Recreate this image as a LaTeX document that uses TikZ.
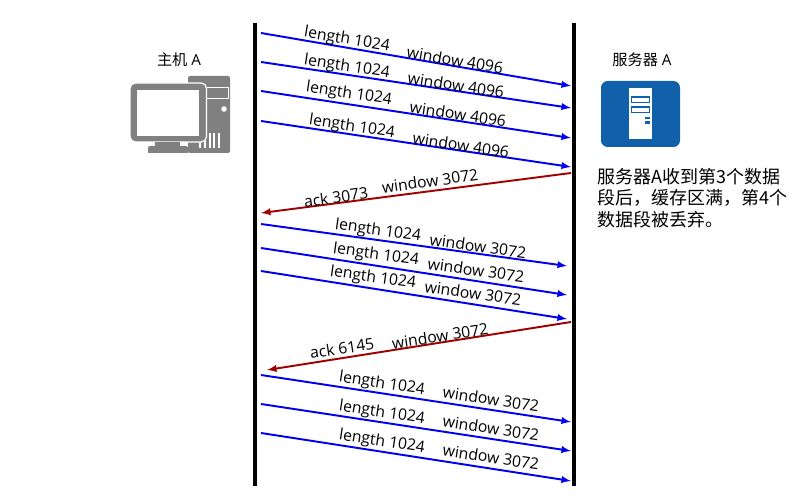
\documentclass[tikz,border=0pt]{standalone}
\usepackage{xcolor}
\usepackage{fontspec}
\setmainfont{Open Sans}
\newfontfamily\cjk{Noto Sans CJK SC}
\usepackage{tikz}
\definecolor{sendblue}{RGB}{0,0,240}
\definecolor{ackred}{RGB}{160,0,0}
\definecolor{hostgrey}{RGB}{128,128,128}
\definecolor{serverblue}{RGB}{17,96,170}
\tikzset{
    lifeline/.style={line width=2.4pt},
    send/.style={->, >=latex, sendblue, line width=1.45pt},
    ack/.style={->, >=latex, ackred, line width=1.45pt},
    seglabel/.style={font=\fontsize{11.8}{12}\selectfont, inner sep=0pt},
    hostlabel/.style={font=\fontsize{11.4}{12}\selectfont, inner sep=0pt}
}
\begin{document}
\begin{tikzpicture}[x=0.75pt, y=-0.75pt]
    \useasboundingbox (0, 0) rectangle (800, 499);

    \coordinate (HT) at (255, 23);
    \coordinate (HB) at (255, 486);
    \coordinate (ST) at (574, 23);
    \coordinate (SB) at (574, 486);
    \draw[lifeline] (HT) -- (HB);
    \draw[lifeline] (ST) -- (SB);

    \node[hostlabel] at (179, 60) (host) {{\cjk 主机} A};
    \node[hostlabel] at (642, 60) (server) {{\cjk 服务器} A};
    \node[font=\fontsize{13.5}{16}\selectfont\cjk, inner sep=0pt, anchor=north west, align=left] at (597.5, 168) (note) {服务器A收到第3个数据\\段后，缓存区满，第4个\\数据段被丢弃。};

    % host icon
    \fill[hostgrey, rounded corners=1.5pt] (188, 76) rectangle (230, 153);
    \draw[white, line width=0.6pt] (206, 87) rectangle (228, 98.5);
    \fill[white] (224, 109) circle (2.8);
    \foreach \x in {200, 205, 210, 214, 219}
        \draw[white, line width=0.8pt] (\x, 133) -- (\x, 148);
    \fill[hostgrey, draw=white, line width=0.9pt, rounded corners=4pt] (130, 83) rectangle (206.5, 142);
    \fill[white] (137, 90) rectangle (199, 136);
    \fill[hostgrey] (155, 142) rectangle (180, 146);
    \fill[hostgrey, rounded corners=1.5pt] (148, 146) rectangle (188, 155);
    \fill[white] (146, 153) rectangle (188, 156);

    % server icon
    \fill[serverblue, rounded corners=5pt] (601, 81) rectangle (680, 147);
    \fill[white] (629, 88.5) rectangle (652, 139);
    \draw[serverblue, line width=0.9pt] (631.5, 97) rectangle (649.5, 102.5);
    \draw[serverblue, line width=0.9pt] (631.5, 107) rectangle (649.5, 112.5);
    \fill[serverblue] (645, 117) rectangle (649.5, 119.5);
    \fill[serverblue] (645, 121.5) rectangle (649.5, 124);

    \coordinate (A1) at (261, 33);
    \coordinate (B1) at (571, 86);
    \coordinate (A2) at (261, 62);
    \coordinate (B2) at (571, 108);
    \coordinate (A3) at (261, 91);
    \coordinate (B3) at (571, 138);
    \coordinate (A4) at (261, 121);
    \coordinate (B4) at (571, 167);
    \coordinate (C1) at (571, 173);
    \coordinate (D1) at (261, 213);
    \coordinate (A5) at (261, 224);
    \coordinate (B5) at (567, 266);
    \coordinate (A6) at (261, 248);
    \coordinate (B6) at (567, 295);
    \coordinate (A7) at (261, 271);
    \coordinate (B7) at (567, 319);
    \coordinate (C2) at (571, 322);
    \coordinate (D2) at (267, 370);
    \coordinate (A8) at (261, 375);
    \coordinate (B8) at (571, 422);
    \coordinate (A9) at (261, 404);
    \coordinate (B9) at (571, 451);
    \coordinate (A10) at (261, 433);
    \coordinate (B10) at (571, 481);

    \draw[send] (A1) -- (B1);
    \draw[send] (A2) -- (B2);
    \draw[send] (A3) -- (B3);
    \draw[send] (A4) -- (B4);
    \draw[ack] (C1) -- (D1);
    \draw[send] (A5) -- (B5);
    \draw[send] (A6) -- (B6);
    \draw[send] (A7) -- (B7);
    \draw[ack] (C2) -- (D2);
    \draw[send] (A8) -- (B8);
    \draw[send] (A9) -- (B9);
    \draw[send] (A10) -- (B10);

    \node[seglabel, rotate=-9.5] at (347, 40) (l1) {length 1024};
    \node[seglabel, rotate=-9.5] at (455, 60) (w1) {window 4096};
    \node[seglabel, rotate=-8.5] at (347, 67) (l2) {length 1024};
    \node[seglabel, rotate=-8.5] at (456, 85) (w2) {window 4096};
    \node[seglabel, rotate=-8.5] at (349, 94) (l3) {length 1024};
    \node[seglabel, rotate=-8.5] at (458, 114) (w3) {window 4096};
    \node[seglabel, rotate=-8.5] at (352, 127) (l4) {length 1024};
    \node[seglabel, rotate=-8.5] at (461, 145) (w4) {window 4096};
    \node[seglabel, rotate=8] at (336, 197) (a1) {ack 3073};
    \node[seglabel, rotate=8] at (430, 181) (w5) {window 3072};
    \node[seglabel, rotate=-8] at (378, 231) (l5) {length 1024};
    \node[seglabel, rotate=-8] at (478, 246) (w6) {window 3072};
    \node[seglabel, rotate=-8] at (376, 255) (l6) {length 1024};
    \node[seglabel, rotate=-8] at (476, 270) (w7) {window 3072};
    \node[seglabel, rotate=-8] at (373, 278) (l7) {length 1024};
    \node[seglabel, rotate=-8] at (473, 293) (w8) {window 3072};
    \node[seglabel, rotate=8.5] at (342, 348) (a2) {ack 6145};
    \node[seglabel, rotate=8.5] at (440, 336) (w9) {window 3072};
    \node[seglabel, rotate=-8.5] at (382, 384) (l8) {length 1024};
    \node[seglabel, rotate=-8.5] at (491, 399) (w10) {window 3072};
    \node[seglabel, rotate=-8.5] at (382, 413) (l9) {length 1024};
    \node[seglabel, rotate=-8.5] at (491, 428) (w11) {window 3072};
    \node[seglabel, rotate=-8.5] at (382, 442) (l10) {length 1024};
    \node[seglabel, rotate=-8.5] at (491, 457) (w12) {window 3072};
\end{tikzpicture}
\end{document}
